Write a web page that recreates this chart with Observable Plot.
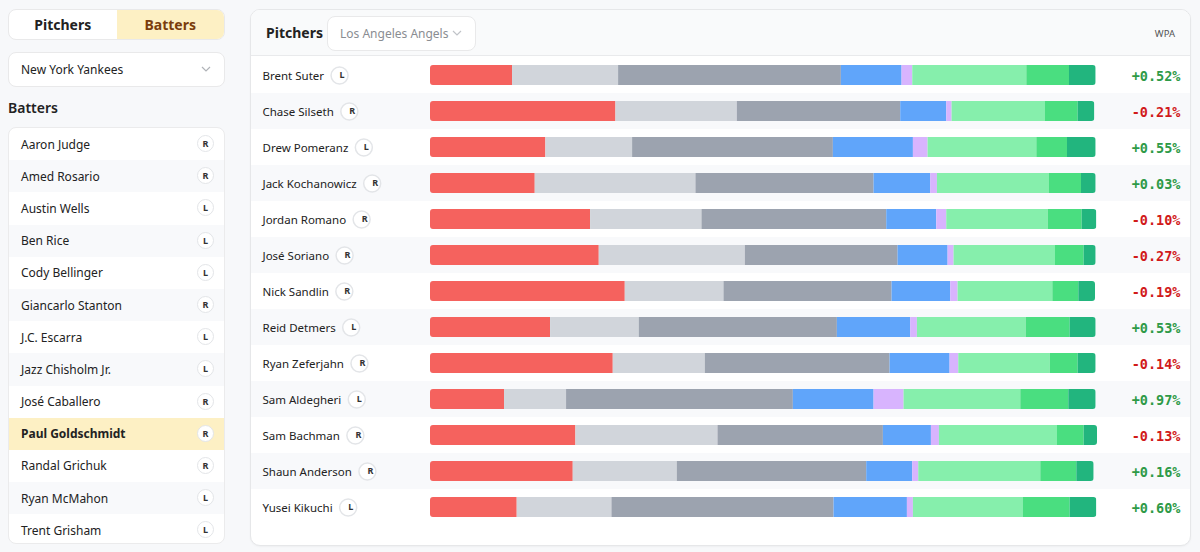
<!DOCTYPE html>
<html><head><meta charset="utf-8">
<script src="https://cdn.jsdelivr.net/npm/d3@7"></script>
<script src="https://cdn.jsdelivr.net/npm/@observablehq/plot@0.6"></script>
<style>
  html,body{margin:0;padding:0;}
  body{width:1200px;height:552px;background:#f7f8fa;font-family:"Noto Sans",sans-serif;color:#222;position:relative;overflow:hidden;}
  .abs{position:absolute;box-sizing:border-box;}
  .toggle{left:8px;top:9px;width:217px;height:31px;border:1px solid #e9e9ea;border-radius:8px;background:#fff;overflow:hidden;display:flex;}
  .toggle div{flex:1;display:flex;align-items:center;justify-content:center;font-weight:700;font-size:14px;}
  .toggle .on{background:#fdf0c4;color:#7a3d0c;}
  .dd{border:1px solid #e9e9ea;border-radius:8px;background:#fff;display:flex;align-items:center;font-size:12px;}
  .chev{position:absolute;top:50%;margin-top:-4px;}
  .list{left:8px;top:127px;width:217px;height:417px;border:1px solid #ebebec;border-radius:8px;background:#fff;overflow:hidden;}
  .row{height:32.2px;display:flex;align-items:center;padding-left:12px;font-size:12px;position:relative;}
  .row:nth-child(even){background:#f8f9fb;}
  .row.sel{background:#fdf0c4;font-weight:700;}
  .badge{position:absolute;left:188px;top:50%;margin-top:-9px;width:17px;height:17px;border-radius:50%;border:1px solid #e3e5e8;background:#fff;box-sizing:border-box;font-size:9px;font-weight:700;display:flex;align-items:center;justify-content:center;color:#333;}
  .card{left:250px;top:9px;width:941px;height:537px;border:1px solid #e6e7e9;border-radius:10px;background:#fff;overflow:hidden;box-shadow:0 1px 2px rgba(0,0,0,0.04);}
  .cardhead{left:0;top:0;width:939px;height:46px;background:#f9fafb;border-bottom:1px solid #e9eaec;}
  .stripes{left:251px;top:57px;width:939px;height:468px;background:repeating-linear-gradient(#fff 0 36px,#f8f9fb 36px 72px);}
  #chart{left:251px;top:57px;}
</style>
</head><body>
<div class="abs toggle"><div>Pitchers</div><div class="on">Batters</div></div>
<div class="abs dd" style="left:8px;top:52px;width:217px;height:35px;padding-left:12px;">New York Yankees
  <svg class="chev" style="left:192px" width="10" height="7"><polyline points="1,1 5,5 9,1" fill="none" stroke="#b0b3b8" stroke-width="1.2"/></svg></div>
<div class="abs" style="left:8px;top:98px;font-size:14px;font-weight:600;color:#222;">Batters</div>
<div class="abs list" id="list"></div>

<div class="abs card">
  <div class="abs cardhead">
    <div class="abs" style="left:15px;top:13px;font-size:14px;font-weight:700;color:#222;">Pitchers</div>
    <div class="abs dd" style="left:76px;top:6px;width:149px;height:35px;padding-left:12px;color:#8a8d92;">Los Angeles Angels
      <svg class="chev" style="left:124px" width="10" height="7"><polyline points="1,1 5,5 9,1" fill="none" stroke="#c0c3c8" stroke-width="1.2"/></svg></div>
    <div class="abs" style="right:15px;top:17px;font-size:9.5px;color:#555;">WPA</div>
  </div>
</div>
<div class="abs stripes"></div>
<div class="abs" id="chart"></div>

<script>
// ---- data ----
const batters = ["Aaron Judge","Amed Rosario","Austin Wells","Ben Rice","Cody Bellinger","Giancarlo Stanton","J.C. Escarra","Jazz Chisholm Jr.","José Caballero","Paul Goldschmidt","Randal Grichuk","Ryan McMahon","Trent Grisham"];
const batterHands = ["R","R","L","L","L","R","L","L","R","R","R","L","L"];
const selectedBatter = "Paul Goldschmidt";

const pitchers = ["Brent Suter","Chase Silseth","Drew Pomeranz","Jack Kochanowicz","Jordan Romano","José Soriano","Nick Sandlin","Reid Detmers","Ryan Zeferjahn","Sam Aldegheri","Sam Bachman","Shaun Anderson","Yusei Kikuchi"];
const pitcherHands = ["L","R","L","R","R","R","R","L","R","L","R","R","L"];
const wpa = [0.52,-0.21,0.55,0.03,-0.10,-0.27,-0.19,0.53,-0.14,0.97,-0.13,0.16,0.60];

const outcomes = ["Strikeout","Groundout","Flyout","Walk","Hit by pitch","Single","Double","Extra bases"];
const outcomeColors = ["#f5625e","#d1d5db","#9ca3af","#60a5fa","#d8b4fe","#86efac","#4ade80","#22b57e"];
// share (%) of each outcome, per pitcher, in outcome order
const shares = [
  [12.3,15.9,33.4, 9.1,1.6,17.1,6.4,4.0],
  [27.8,18.2,24.5, 6.9,0.8,14.0,4.9,2.5],
  [17.3,13.0,30.1,12.0,2.2,16.3,4.6,4.3],
  [15.7,24.1,26.7, 8.5,1.0,16.8,4.8,2.2],
  [24.0,16.7,27.7, 7.5,1.5,15.2,5.1,2.2],
  [25.3,21.9,22.9, 7.5,0.9,15.2,4.3,1.8],
  [29.2,14.8,25.2, 8.8,1.1,14.2,3.9,2.5],
  [18.0,13.3,29.7,11.0,1.0,16.3,6.6,3.9],
  [27.4,13.8,27.7, 9.0,1.3,13.7,4.2,2.7],
  [11.1, 9.3,34.0,12.1,4.5,17.5,7.2,4.1],
  [21.8,21.3,24.8, 7.2,1.2,17.7,4.0,2.0],
  [21.4,15.6,28.4, 6.9,0.9,18.3,5.4,2.6],
  [13.0,14.2,33.3,11.0,0.9,16.5,7.0,4.0]
];

// ---- left list (HTML UI) ----
const list = document.getElementById("list");
batters.forEach((b,i) => {
  const r = document.createElement("div");
  r.className = "row" + (b === selectedBatter ? " sel" : "");
  r.textContent = b;
  const bd = document.createElement("span");
  bd.className = "badge"; bd.textContent = batterHands[i];
  r.appendChild(bd);
  list.appendChild(r);
});

// ---- chart ----
const table = pitchers.flatMap((p,i) => outcomes.map((o,j) => ({pitcher:p, outcome:o, share:shares[i][j]})));
const rowInfo = pitchers.map((p,i) => ({pitcher:p, hand:pitcherHands[i], wpa:wpa[i], total:d3.sum(shares[i])}));
const fmt = d => (d.wpa >= 0 ? "+" : "-") + Math.abs(d.wpa).toFixed(2) + "%";
const FONT = '"Noto Sans", sans-serif';

const plot = Plot.plot({
  width: 939, height: 468,
  marginLeft: 179, marginRight: 93, marginTop: 0, marginBottom: 0,
  style: {background: "transparent", overflow: "visible", fontFamily: FONT},
  x: {domain: [0, 100], axis: null},
  y: {domain: pitchers, axis: null, padding: 0},
  color: {domain: outcomes, range: outcomeColors},
  marks: [
    Plot.barX(table, {x: "share", y: "pitcher", fill: "outcome", order: outcomes, insetTop: 8, insetBottom: 8}),
    Plot.text(rowInfo, {y: "pitcher", text: "pitcher", frameAnchor: "left", textAnchor: "start", dx: -168, dy: 1, fontSize: 11.5, fill: "#222"}),
    Plot.dot(rowInfo, {y: "pitcher", frameAnchor: "left", dx: -168, r: 8.5, fill: "white", stroke: "#e3e5e8"}),
    Plot.text(rowInfo, {y: "pitcher", text: "hand", frameAnchor: "left", dx: -168, fontSize: 9, fontWeight: 700, fill: "#333"}),
    Plot.text(rowInfo, {filter: d => d.wpa >= 0, y: "pitcher", text: fmt, frameAnchor: "right", textAnchor: "end", dx: 83, dy: 1, fontFamily: "DejaVu Sans Mono", fontWeight: 700, fontSize: 13.5, fill: "#2e9a47"}),
    Plot.text(rowInfo, {filter: d => d.wpa < 0, y: "pitcher", text: fmt, frameAnchor: "right", textAnchor: "end", dx: 83, dy: 1, fontFamily: "DejaVu Sans Mono", fontWeight: 700, fontSize: 13.5, fill: "#d11a1a"})
  ]
});
document.getElementById("chart").appendChild(plot);

// rounded ends of each stacked bar, placed with the plot's own scales
const xs = plot.scale("x"), ys = plot.scale("y");
const svg = d3.select(plot);
const cp = svg.insert("defs", ":first-child").append("clipPath").attr("id", "barclip");
rowInfo.forEach(d => {
  cp.append("rect")
    .attr("x", xs.apply(0)).attr("y", ys.apply(d.pitcher) + 8)
    .attr("width", xs.apply(d.total) - xs.apply(0)).attr("height", ys.bandwidth - 16)
    .attr("rx", 3);
});
svg.select('g[aria-label="bar"]').attr("clip-path", "url(#barclip)");

// place handedness badges just after each name
const textGroups = plot.querySelectorAll('g[aria-label="text"]');
const nameEls = textGroups[0].querySelectorAll("text");
const letterEls = textGroups[1].querySelectorAll("text");
const dotEls = plot.querySelectorAll('g[aria-label="dot"] circle');
const shift = (el, w) => el.setAttribute("transform", (el.getAttribute("transform") || "") + ` translate(${w},0)`);
nameEls.forEach((el, i) => {
  const w = el.getComputedTextLength() + 15.5;
  shift(dotEls[i], w);
  shift(letterEls[i], w);
});
</script>
</body></html>
